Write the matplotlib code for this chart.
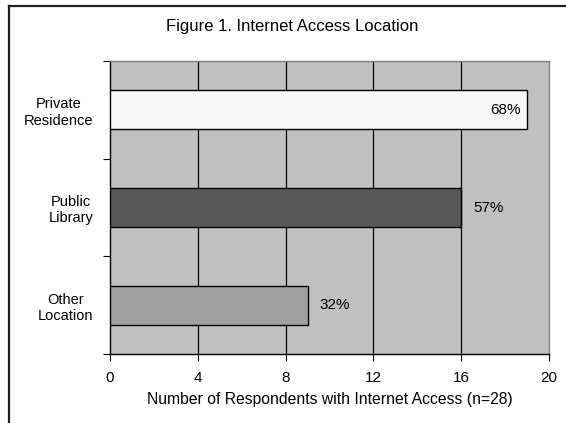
import matplotlib.pyplot as plt
from matplotlib.lines import Line2D

plt.rcParams["font.family"] = ["Liberation Sans", "DejaVu Sans"]

categories = ["Private\nResidence", "Public\nLibrary", "Other\nLocation"]
counts = [19, 16, 9]
percents = ["68%", "57%", "32%"]
bar_colors = ["#f8f8f8", "#595959", "#a0a0a0"]
x_ticks = [0, 4, 8, 12, 16, 20]

W, H = 566, 423
fig = plt.figure(figsize=(W / 100, H / 100), dpi=100, facecolor="white")
ax = fig.add_axes([110 / W, 1 - 354 / H, (549 - 110) / W, (354 - 61) / H])
ax.set_facecolor("#c0c0c0")

ypos = [0, 1, 2]
ax.barh(ypos, counts, height=0.4, color=bar_colors, edgecolor="black",
        linewidth=1.0, zorder=3)

for y, c, p in zip(ypos, counts, percents):
    if c >= 18:
        ax.text(c - 0.3, y, p, ha="right", va="center", fontsize=11, zorder=4)
    else:
        ax.text(c + 0.55, y, p, ha="left", va="center", fontsize=11, zorder=4)

ax.set_xlim(0, 20)
ax.set_ylim(2.5, -0.5)
ax.set_xticks(x_ticks)
ax.set_xticklabels([str(t) for t in x_ticks], fontsize=11)
ax.set_yticks([-0.5, 0.5, 1.5, 2.5])
ax.set_yticklabels([])
ax.set_yticks(ypos, minor=True)
ax.set_yticklabels(categories, minor=True, fontsize=10.5, multialignment="center")
ax.tick_params(axis="y", which="minor", length=0, pad=12)
ax.tick_params(axis="y", which="major", length=5, direction="out", color="black")
ax.tick_params(axis="x", length=5, direction="out", pad=7, color="black")

for t in x_ticks[1:-1]:
    ax.axvline(t, color="black", linewidth=0.9, zorder=1)

ax.spines["left"].set_color("black")
ax.spines["bottom"].set_color("black")
ax.spines["top"].set_color("#808080")
ax.spines["right"].set_color("#808080")
for s in ax.spines.values():
    s.set_linewidth(1.0)

ax.set_xlabel("Number of Respondents with Internet Access (n=28)", fontsize=11.3, labelpad=5)

fig.text(292 / W, 1 - 27 / H, "Figure 1. Internet Access Location", ha="center",
         va="center", fontsize=12)

# chart frame (left and top edges visible)
fig.add_artist(Line2D([8.5 / W, 8.5 / W], [0, 1 - 6 / H], color="#202020",
                      linewidth=1.6, transform=fig.transFigure))
fig.add_artist(Line2D([8.5 / W, 1], [1 - 6 / H, 1 - 6 / H], color="#202020",
                      linewidth=1.6, transform=fig.transFigure))

fig.savefig("out.png", dpi=100, facecolor="white")
